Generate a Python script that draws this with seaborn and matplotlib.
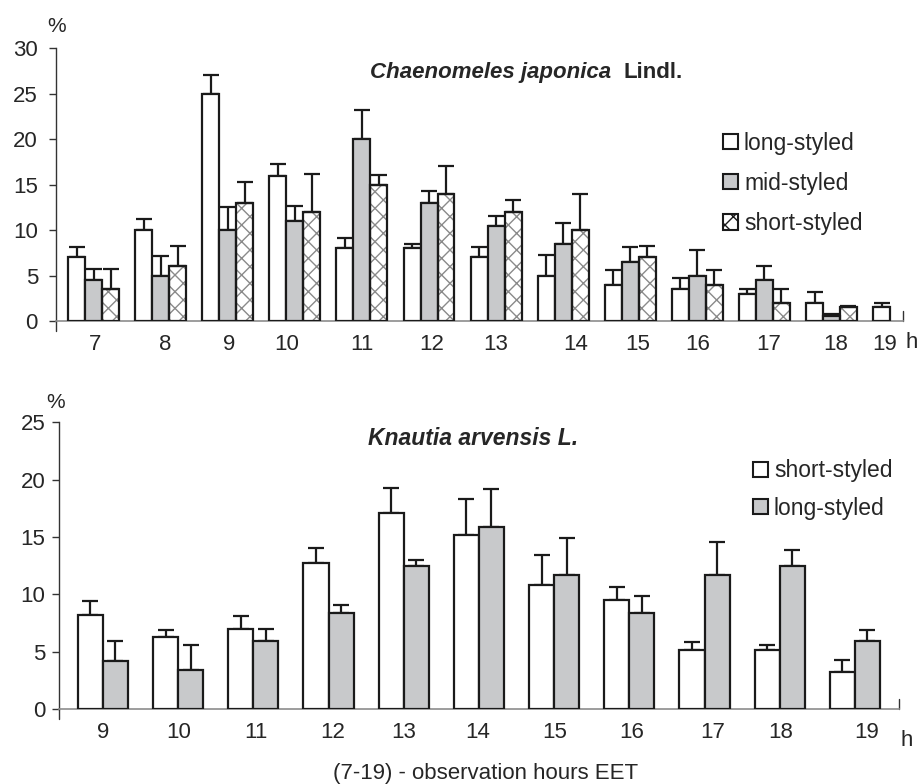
import numpy as np
import pandas as pd
import matplotlib
matplotlib.use("Agg")
import matplotlib.pyplot as plt
import matplotlib.transforms as mtransforms
from matplotlib.patches import Rectangle, Patch
import seaborn as sns

sns.set_style("white")
plt.rcParams['font.family'] = ['Liberation Sans', 'DejaVu Sans']

# ---------------- data: Chaenomeles japonica ----------------
hours_top = ["7", "8", "9", "10", "11", "12", "13", "14", "15", "16", "17", "18", "19"]
long_top = [7, 10, 25, 16, 8, 8, 7, 5, 4, 3.5, 3, 2, 1.5]
long_top_err = [1.1, 1.2, 2.1, 1.3, 1.1, 0.5, 1.1, 2.3, 1.6, 1.25, 0.55, 1.2, 0.5]
mid_top = [4.5, 5, 10, 11, 20, 13, 10.5, 8.5, 6.5, 5, 4.5, 0.5, np.nan]
mid_top_err = [1.2, 2.1, 2.5, 1.6, 3.2, 1.3, 1.1, 2.3, 1.6, 2.8, 1.6, 0.3, np.nan]
short_top = [3.5, 6, 13, 12, 15, 14, 12, 10, 7, 4, 2, 1.5, np.nan]
short_top_err = [2.2, 2.2, 2.3, 4.2, 1.1, 3.0, 1.3, 4.0, 1.2, 1.6, 1.5, 0.2, np.nan]
series_top = ["long-styled", "mid-styled", "short-styled"]

# ---------------- data: Knautia arvensis ----------------
hours_bot = ["9", "10", "11", "12", "13", "14", "15", "16", "17", "18", "19"]
short_bot = [8.2, 6.3, 7.0, 12.7, 17.1, 15.2, 10.8, 9.5, 5.1, 5.1, 3.2]
short_bot_err = [1.2, 0.6, 1.1, 1.3, 2.2, 3.1, 2.6, 1.1, 0.75, 0.5, 1.1]
long_bot = [4.2, 3.4, 5.9, 8.4, 12.5, 15.9, 11.7, 8.4, 11.7, 12.5, 5.9]
long_bot_err = [1.7, 2.2, 1.1, 0.65, 0.5, 3.3, 3.2, 1.45, 2.9, 1.4, 1.0]
series_bot = ["short-styled", "long-styled"]

# horizontal nudges of the hour labels (pixels), as placed in the original
nudge_top = [1.5, 4.5, 1, -8, 0, 3, 0, 13, 7, 0, 4, 4, -14]
nudge_bot = [0, 1, 3, 4, 0, -1, 1, 2.5, 8, 1, 12]

WHITE = "#ffffff"
GRAY = "#c8c9cb"
HATCH_C = "#8a8a8a"
EDGE = "#1a1a1a"
FS = 16

fig = plt.figure(figsize=(9.2, 7.84), dpi=100)
ax1 = fig.add_axes([0.0609, 0.5906, 0.9202, 0.3478])
ax2 = fig.add_axes([0.0645, 0.0957, 0.9130, 0.3657])


def draw(ax, hours, values, errs, names, styles, width, xlim, ylim, yticks,
         nudges, ypad):
    rows = []
    for name, vals in zip(names, values):
        for h, v in zip(hours, vals):
            rows.append({"hour": h, "series": name, "value": v})
    df = pd.DataFrame(rows)
    sns.barplot(data=df, x="hour", y="value", hue="series", order=hours,
                hue_order=names, width=width, dodge=True, ax=ax,
                palette=[s["fc"] for s in styles], edgecolor=EDGE,
                linewidth=1.6, errorbar=None, legend=False, saturation=1)
    n = len(names)
    bw = width / n
    for j, (cont, st) in enumerate(zip(ax.containers, styles)):
        for p in cont.patches:
            p.set_edgecolor(EDGE)
            p.set_linewidth(1.6)
            p.set_zorder(3)
            if st.get("hatch"):
                hp = Rectangle((p.get_x(), p.get_y()), p.get_width(), p.get_height(),
                               facecolor=WHITE, edgecolor=HATCH_C, hatch="xx",
                               linewidth=0, zorder=2)
                ax.add_patch(hp)
                p.set_facecolor("none")
    for j, (vals, er) in enumerate(zip(values, errs)):
        x = np.arange(len(hours)) + (j - (n - 1) / 2) * bw
        v = np.array(vals, dtype=float)
        e = np.array(er, dtype=float)
        m = ~np.isnan(v)
        ax.errorbar(x[m], v[m], yerr=[np.zeros(m.sum()), e[m]], fmt="none",
                    ecolor=EDGE, elinewidth=1.6, capsize=5.5, capthick=1.6, zorder=2.5)
    ax.set_xlim(*xlim)
    ax.set_ylim(*ylim)
    ax.set_yticks(yticks)
    ax.set_xlabel("")
    ax.set_ylabel("")
    for s in ["top", "right"]:
        ax.spines[s].set_visible(False)
    ax.spines["left"].set_color("#333333")
    ax.spines["left"].set_linewidth(1.0)
    ax.spines["bottom"].set_color("#8c8c8c")
    ax.spines["bottom"].set_linewidth(1.2)
    ax.tick_params(axis="y", which="major", left=True, length=5, width=1.0,
                   color="#333333", labelsize=FS, pad=ypad, direction="out")
    ax.tick_params(axis="x", which="major", bottom=False, labelsize=FS, pad=6)
    for lab, dx in zip(ax.get_xticklabels(), nudges):
        lab.set_transform(lab.get_transform() +
                          mtransforms.ScaledTranslation(dx / 100, 0, fig.dpi_scale_trans))
    # end marks of axes
    ax.plot([0, 0], [0, -0.035], transform=ax.transAxes, color="#333333",
            lw=1.0, clip_on=False)
    ax.plot([1, 1], [0, 0.035], transform=ax.transAxes, color="#333333",
            lw=1.0, clip_on=False)


draw(ax1, hours_top, [long_top, mid_top, short_top],
     [long_top_err, mid_top_err, short_top_err], series_top,
     [{"fc": WHITE}, {"fc": GRAY}, {"fc": WHITE, "hatch": True}],
     width=0.76, xlim=(-0.56, 12.06), ylim=(0, 30), yticks=range(0, 31, 5),
     nudges=nudge_top, ypad=8)

draw(ax2, hours_bot, [short_bot, long_bot], [short_bot_err, long_bot_err],
     series_bot, [{"fc": WHITE}, {"fc": GRAY}],
     width=0.667, xlim=(-0.58, 10.59), ylim=(0, 25), yticks=range(0, 26, 5),
     nudges=nudge_bot, ypad=5)

# titles
fig.text(0.402, 0.908, "Chaenomeles japonica", fontsize=16, fontweight="bold",
         fontstyle="italic", ha="left", va="center")
fig.text(0.678, 0.908, "Lindl.", fontsize=16, fontweight="bold",
         ha="left", va="center")
fig.text(0.400, 0.441, "Knautia arvensis L.", fontsize=16.5, fontweight="bold",
         fontstyle="italic", ha="left", va="center")

# unit labels
fig.text(0.061, 0.966, "%", fontsize=15, ha="center", va="center")
fig.text(0.060, 0.487, "%", fontsize=15, ha="center", va="center")
fig.text(0.991, 0.5625, "h", fontsize=FS, ha="center", va="center")
fig.text(0.985, 0.056, "h", fontsize=FS, ha="center", va="center")
fig.text(0.528, 0.007, "(7-19) - observation hours EET", fontsize=16,
         ha="center", va="baseline")

# legends
h_top = [Patch(facecolor=WHITE, edgecolor=EDGE, linewidth=1.5),
         Patch(facecolor=GRAY, edgecolor=EDGE, linewidth=1.5),
         Patch(facecolor=WHITE, edgecolor=EDGE, linewidth=1.5, hatch="xx")]
leg1 = fig.legend(h_top, series_top, loc="upper left",
                  bbox_to_anchor=(0.786, 0.832), frameon=False, fontsize=16.5,
                  handlelength=0.65, handleheight=0.65, handletextpad=0.26,
                  labelspacing=0.75, borderaxespad=0, borderpad=0)
h_bot = [Patch(facecolor=WHITE, edgecolor=EDGE, linewidth=1.5),
         Patch(facecolor=GRAY, edgecolor=EDGE, linewidth=1.5)]
leg2 = fig.legend(h_bot, series_bot, loc="upper left",
                  bbox_to_anchor=(0.8185, 0.414), frameon=False, fontsize=16.5,
                  handlelength=0.65, handleheight=0.65, handletextpad=0.26,
                  labelspacing=0.62, borderaxespad=0, borderpad=0)

fig.savefig("out.png", dpi=100)
